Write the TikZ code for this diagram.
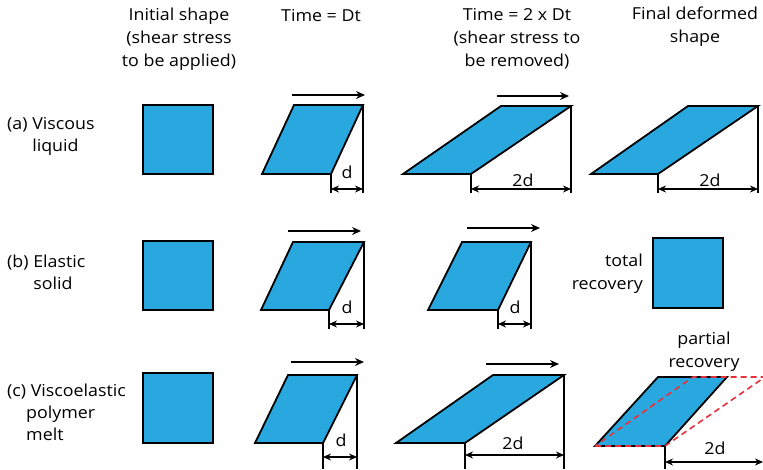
\documentclass[tikz,border=0pt]{standalone}
\usepackage{fontspec}
\setmainfont{Open Sans}[FakeStretch=1.08]
\usepackage{xcolor}
\usepackage{tikz}
\usetikzlibrary{arrows.meta, positioning}

\definecolor{meltblue}{RGB}{41,168,224}
\definecolor{recred}{RGB}{232,48,58}

\begin{document}
\begin{tikzpicture}[x=1pt, y=-1pt,
	sample/.style={fill=meltblue, draw=black, line width=1.8pt, line join=miter},
	guide/.style={line width=1.3pt},
	shear/.style={line width=1.3pt, -{Stealth[length=9pt, width=8pt]}},
	dimarrow/.style={line width=1.3pt, {Stealth[length=8pt, width=7pt]}-{Stealth[length=8pt, width=7pt]}},
	recline/.style={draw=recred, line width=1.6pt, dash pattern=on 6pt off 4pt},
	head/.style={font=\fontsize{16.5}{23}\selectfont, align=center, inner sep=0pt},
	rowlab/.style={font=\fontsize{16.5}{22}\selectfont, align=left, anchor=west, inner sep=0pt},
	dimlab/.style={font=\fontsize{16.5}{18}\selectfont, inner sep=0pt}]
				\useasboundingbox (0,0) rectangle (763,469);
				% Column headings:
				\node[head] (hInit) at (179,39) {Initial shape\\(shear stress\\to be applied)};
				\node[head] (hDt) at (321,16) {Time = Dt};
				\node[head] (hTwoDt) at (517,39) {Time = 2 x Dt\\(shear stress to\\be removed)};
				\node[head] (hFinal) at (695,27) {Final deformed\\shape};
				
				% Row labels:
				\node[rowlab] (lViscous) at (7,136) {(a) Viscous\\\hphantom{(a) }liquid};
				\node[rowlab] (lElastic) at (7,272) {(b) Elastic\\\hphantom{(b) }solid};
				\node[rowlab] (lMelt) at (7,412) {(c) Viscoelastic\\\hphantom{(c)}polymer\\\hphantom{(c)}melt};
				
				% (a) Viscous liquid
				\draw[sample] (143,105) rectangle (213,174);
				\draw[sample] (262,174) -- (331,174) -- (363,105) -- (294,105) -- cycle;
				\draw[shear] (292,95) -- (365,95);
				\coordinate (aDtL) at (331,189);
				\coordinate (aDtR) at (363,189);
				\draw[guide] (363,105) -- (363,193) (331,174) -- (331,193);
				\draw[dimarrow] (aDtL) -- (aDtR);
				\node[dimlab] (aDtd) at (347,172) {d};
				
				\draw[sample] (403,174) -- (471,174) -- (571,106) -- (501,106) -- cycle;
				\draw[shear] (497,96) -- (569,96);
				\coordinate (aTwoL) at (471,189);
				\coordinate (aTwoR) at (571,189);
				\draw[guide] (571,106) -- (571,193) (471,174) -- (471,193);
				\draw[dimarrow] (aTwoL) -- (aTwoR);
				\node[dimlab] (aTwod) at (523,180) {2d};
				
				\draw[sample] (591,174) -- (658,174) -- (758,106) -- (688,106) -- cycle;
				\coordinate (aFinL) at (658,189);
				\coordinate (aFinR) at (758,189);
				\draw[guide] (758,106) -- (758,193) (658,174) -- (658,193);
				\draw[dimarrow] (aFinL) -- (aFinR);
				\node[dimlab] (aFind) at (710,180) {2d};
				
				% (b) Elastic solid
				\draw[sample] (143,241) rectangle (213,310);
				\draw[sample] (261,310) -- (329,310) -- (364,242) -- (293,242) -- cycle;
				\draw[shear] (288,231) -- (361,231);
				\coordinate (bDtL) at (329,324);
				\coordinate (bDtR) at (364,324);
				\draw[guide] (364,242) -- (364,329) (329,310) -- (329,329);
				\draw[dimarrow] (bDtL) -- (bDtR);
				\node[dimlab] (bDtd) at (347,307) {d};
				
				\draw[sample] (428,310) -- (498,310) -- (531,242) -- (462,242) -- cycle;
				\draw[shear] (467,228) -- (540,228);
				\coordinate (bTwoL) at (498,324);
				\coordinate (bTwoR) at (531,324);
				\draw[guide] (531,242) -- (531,329) (498,310) -- (498,329);
				\draw[dimarrow] (bTwoL) -- (bTwoR);
				\node[dimlab] (bTwod) at (515,307) {d};
				
				\draw[sample] (653,238) rectangle (723,308);
				\node[head, align=right, anchor=east] (bTotal) at (643,274) {total\\recovery};
				
				% (c) Viscoelastic polymer melt
				\draw[sample] (143,373) rectangle (213,443);
				\draw[sample] (255,443) -- (323,443) -- (357,375) -- (288,375) -- cycle;
				\draw[shear] (291,362) -- (364,362);
				\coordinate (cDtL) at (323,457);
				\coordinate (cDtR) at (357,457);
				\draw[guide] (357,375) -- (357,469) (323,443) -- (323,469);
				\draw[dimarrow] (cDtL) -- (cDtR);
				\node[dimlab] (cDtd) at (341,440) {d};
				
				\draw[sample] (396,443) -- (465,443) -- (564,375) -- (493,375) -- cycle;
				\draw[shear] (486,364) -- (559,364);
				\coordinate (cTwoL) at (465,455);
				\coordinate (cTwoR) at (564,455);
				\draw[guide] (564,375) -- (564,469) (465,443) -- (465,469);
				\draw[dimarrow] (cTwoL) -- (cTwoR);
				\node[dimlab] (cTwod) at (513,443) {2d};
				
				\draw[sample] (595,446) -- (665,446) -- (727,377) -- (658,377) -- cycle;
				\draw[recline] (595,446) -- (665,446) -- (765,377) -- (693,377) -- cycle;
				\node[head] (cPartial) at (704,352) {partial\\recovery};
				\coordinate (cFinL) at (665,462);
				\coordinate (cFinR) at (763,462);
				\draw[guide] (665,446) -- (665,469);
				\draw[dimarrow] (cFinL) -- (cFinR);
				\node[dimlab] (cFind) at (715,448) {2d};
			\end{tikzpicture}
\end{document}
